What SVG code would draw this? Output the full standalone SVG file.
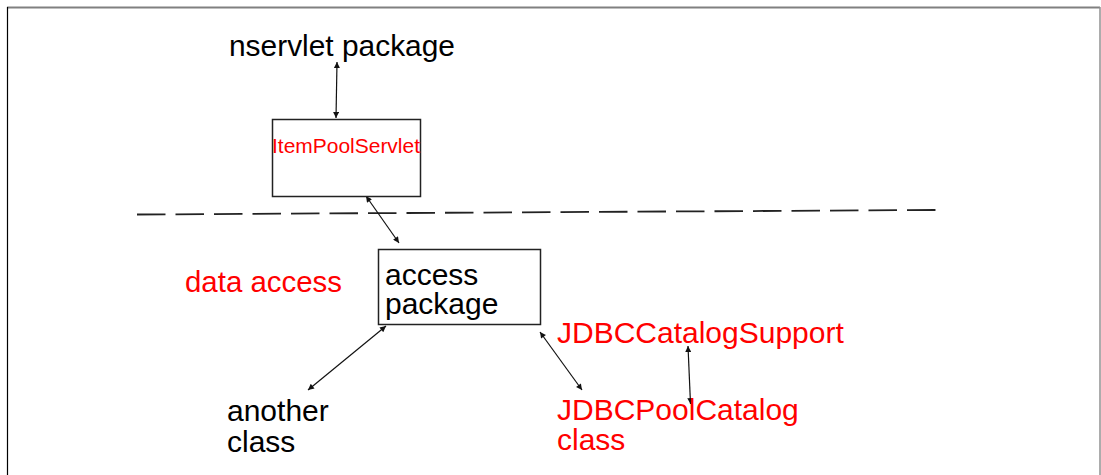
<svg xmlns="http://www.w3.org/2000/svg" width="1101" height="475" viewBox="0 0 1101 475">
  <style>
    .lbl { font-family: "Liberation Sans", Arial, sans-serif; font-size: 30px; }
    .blk { fill: #000; }
    .red { fill: #ff0000; }
    .box { fill: #fff; stroke: #222; stroke-width: 1.5; }
    .link { stroke: #111; stroke-width: 1.2; fill: none; marker-start: url(#head); marker-end: url(#head); }
  </style>
  <defs>
    <marker id="head" viewBox="0 0 10 10" refX="10" refY="5" markerWidth="9" markerHeight="6" markerUnits="userSpaceOnUse" orient="auto-start-reverse">
      <path d="M0,0 L10,5 L0,10 z" fill="#111"/>
    </marker>
  </defs>

  <rect width="1101" height="475" fill="#fff"/>

  <!-- frame -->
  <g id="frame">
    <line x1="7" y1="7.5" x2="1100" y2="7.5" stroke="#808080" stroke-width="2"/>
    <line x1="7.5" y1="7" x2="7.5" y2="475" stroke="#000" stroke-width="1.2"/>
    <line x1="1100" y1="7" x2="1100" y2="475" stroke="#909090" stroke-width="1.5"/>
  </g>

  <!-- tier separator -->
  <line id="separator" x1="137" y1="214.5" x2="936" y2="210" stroke="#222" stroke-width="1.8" stroke-dasharray="28.5 10"/>

  <g id="connectors">
    <line class="link" x1="337" y1="62" x2="336" y2="118"/>
    <line class="link" x1="366" y1="196" x2="399" y2="243"/>
    <line class="link" x1="386" y1="326" x2="308" y2="390"/>
    <line class="link" x1="540" y1="332" x2="582" y2="390"/>
    <line class="link" x1="688" y1="346" x2="690.5" y2="404"/>
  </g>

  <g id="nservlet-package">
    <text class="lbl blk" x="229" y="56" textLength="226" lengthAdjust="spacingAndGlyphs">nservlet package</text>
  </g>

  <g id="item-pool-servlet">
    <rect class="box" x="272.5" y="119.5" width="148" height="77"/>
    <text class="red" x="272" y="153" font-family="Liberation Sans, Arial, sans-serif" font-size="21" textLength="148" lengthAdjust="spacingAndGlyphs">ItemPoolServlet</text>
  </g>

  <g id="data-access">
    <text class="lbl red" x="185" y="292" textLength="157" lengthAdjust="spacingAndGlyphs">data access</text>
  </g>

  <g id="access-package">
    <rect class="box" x="378.5" y="249.5" width="162" height="75"/>
    <text class="lbl blk" x="385" y="285">access</text>
    <text class="lbl blk" x="385" y="314">package</text>
  </g>

  <g id="another-class">
    <text class="lbl blk" x="227" y="421">another</text>
    <text class="lbl blk" x="227" y="452">class</text>
  </g>

  <g id="jdbc-catalog-support">
    <text class="lbl red" x="557" y="343">JDBCCatalogSupport</text>
  </g>

  <g id="jdbc-pool-catalog">
    <text class="lbl red" x="557" y="420">JDBCPoolCatalog</text>
    <text class="lbl red" x="557" y="450">class</text>
  </g>
</svg>
